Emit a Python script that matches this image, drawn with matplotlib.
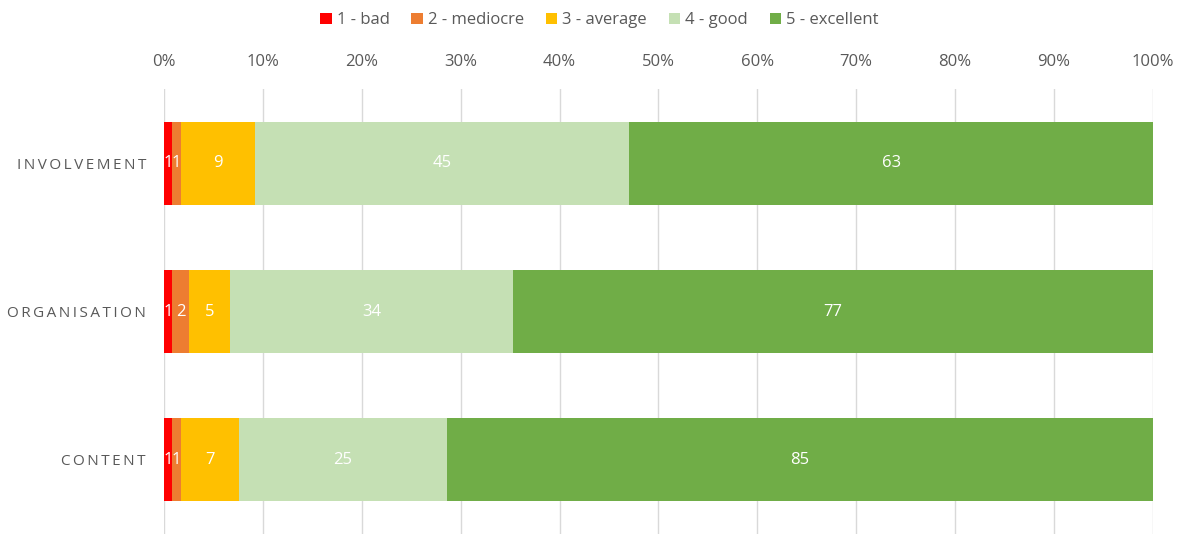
import matplotlib.pyplot as plt
import numpy as np

plt.rcParams['font.family'] = ['Open Sans', 'DejaVu Sans']

categories = ["INVOLVEMENT", "ORGANISATION", "CONTENT"]
ratings = ["1 - bad", "2 - mediocre", "3 - average", "4 - good", "5 - excellent"]
counts = np.array([
    [1, 1, 9, 45, 63],
    [1, 2, 5, 34, 77],
    [1, 1, 7, 25, 85],
])
colors = ["#FF0000", "#ED7D31", "#FFC000", "#C5E0B4", "#70AD47"]
text_grey = "#595959"

shares = counts / counts.sum(axis=1, keepdims=True)

fig = plt.figure(figsize=(11.8, 5.34), dpi=100)
ax = fig.add_axes([0.139, 0.0, 0.838, 0.8333])

y = np.arange(len(categories))
left = np.zeros(len(categories))
for j, (label, col) in enumerate(zip(ratings, colors)):
    bars = ax.barh(y, shares[:, j], left=left, height=0.56, color=col,
                   label=label, zorder=3)
    for i, b in enumerate(bars):
        ax.text(left[i] + shares[i, j] / 2, y[i], str(counts[i, j]),
                ha='center', va='center', color='white', fontsize=12, zorder=4)
    left += shares[:, j]

ax.set_xlim(0, 1)
ax.set_ylim(len(categories) - 0.5, -0.5)
ax.set_xticks(np.linspace(0, 1, 11))
ax.set_xticklabels([f"{int(v)}%" for v in np.linspace(0, 100, 11)])
ax.xaxis.tick_top()
ax.tick_params(axis='x', length=0, pad=14, labelsize=12, labelcolor=text_grey)
ax.set_yticks(y)
# tracked-out category names
ax.set_yticklabels(["\u2009".join(c) for c in categories])
ax.tick_params(axis='y', length=0, pad=13, labelsize=11, labelcolor=text_grey)
ax.grid(axis='x', color='#D9D9D9', linewidth=1, zorder=0)
for s in ax.spines.values():
    s.set_visible(False)

fig.legend(loc='upper center', bbox_to_anchor=(0.508, 1.005), ncol=5, frameon=False,
           handlelength=0.7, handleheight=0.7, handletextpad=0.3,
           columnspacing=1.3, fontsize=12, labelcolor=text_grey)

fig.savefig("out.png", dpi=100)
